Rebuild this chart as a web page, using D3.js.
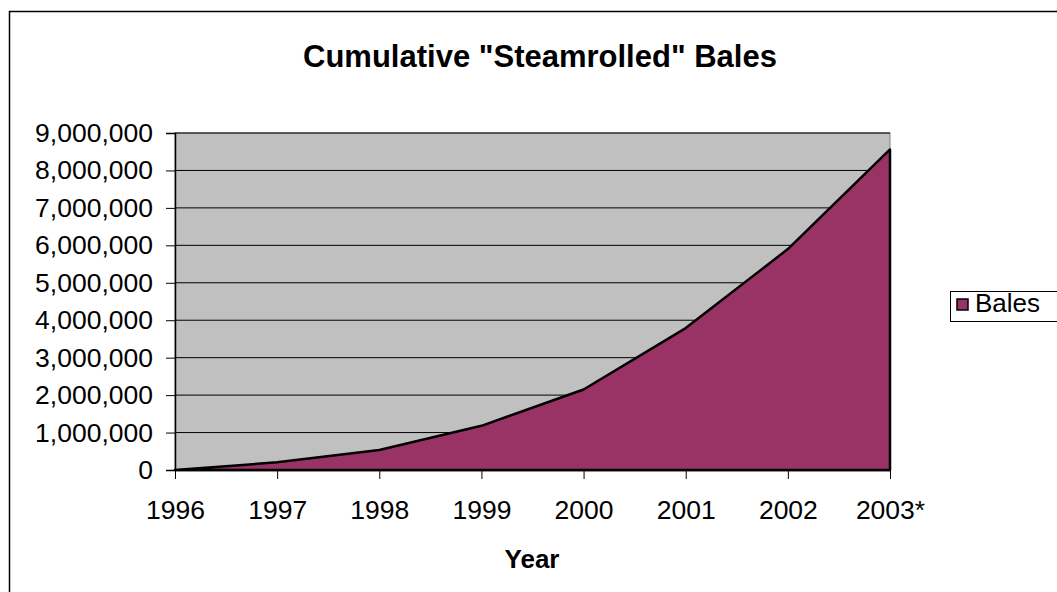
<!DOCTYPE html>
<html lang="en">
<head>
    <meta charset="UTF-8">
    <title>Cumulative Steamrolled Bales</title>
    <script src="https://cdn.jsdelivr.net/npm/d3@7"></script>
    <style>
        html, body {
            margin: 0;
            background: white;
            font-family: "Liberation Sans", Arial, sans-serif;
        }
    </style>
</head>
<body>
    <div id="vis"></div>
    <script>
        // data
        var years = ['1996', '1997', '1998', '1999', '2000', '2001', '2002', '2003*'];
        var bales = [0, 205000, 535000, 1180000, 2150000, 3790000, 5900000, 8560000];
        var yTicks = [0, 1000000, 2000000, 3000000, 4000000, 5000000, 6000000, 7000000, 8000000, 9000000];

        var width = 1057, height = 592;
        var margin = {top: 133, left: 175, right: 167, bottom: 122};
        var font = '"Liberation Sans", Arial, sans-serif';

        var svg = d3.select('#vis').append('svg')
            .attr('width', width)
            .attr('height', height)
            .attr('font-family', font);

        // outer chart border
        svg.append('rect')
            .attr('x', 9.5).attr('y', 11.5)
            .attr('width', 1100).attr('height', 700)
            .attr('fill', 'white')
            .attr('stroke', 'black')
            .attr('stroke-width', 1.5);

        var w = width - margin.left - margin.right;
        var h = height - margin.top - margin.bottom;

        var g = svg.append('g')
            .attr('transform', 'translate(' + margin.left + ',' + margin.top + ')');

        var x = d3.scalePoint().domain(years).range([0, w]);
        var y = d3.scaleLinear().domain([0, 9000000]).range([h, 0]);

        g.append('rect')
            .attr('width', w).attr('height', h)
            .attr('fill', '#c0c0c0')
            .attr('stroke', '#808080')
            .attr('stroke-width', 1);

        // gridlines
        g.selectAll('.grid')
            .data(yTicks.slice(1))
            .enter().append('line')
            .attr('class', 'grid')
            .attr('x1', 0).attr('x2', w)
            .attr('y1', function(d){ return y(d); })
            .attr('y2', function(d){ return y(d); })
            .attr('stroke', 'black')
            .attr('stroke-width', 1);

        var area = d3.area()
            .x(function(d, i){ return x(years[i]); })
            .y0(h)
            .y1(function(d){ return y(d); });

        g.append('path')
            .datum(bales)
            .attr('d', area)
            .attr('fill', '#993366')
            .attr('stroke', 'black')
            .attr('stroke-width', 2.5)
            .attr('stroke-linejoin', 'round');

        var fmt = d3.format(',');

        var yAxis = g.append('g')
            .call(d3.axisLeft(y).tickValues(yTicks).tickFormat(fmt).tickSize(9).tickPadding(13));
        yAxis.attr('font-size', null).attr('font-family', null);
        yAxis.select('.domain').attr('stroke', 'black').attr('stroke-width', 1.5);
        yAxis.selectAll('text')
            .style('font-size', '26.5px')
            .attr('fill', 'black');

        var xAxis = g.append('g')
            .attr('transform', 'translate(0,' + h + ')')
            .call(d3.axisBottom(x).tickSize(9).tickPadding(21).tickSizeOuter(0));
        xAxis.attr('font-size', null).attr('font-family', null);
        xAxis.select('.domain').attr('stroke', 'black').attr('stroke-width', 1.5);
        xAxis.selectAll('text')
            .style('font-size', '26.5px')
            .attr('fill', 'black');

        svg.append('text')
            .attr('x', 540).attr('y', 67)
            .attr('text-anchor', 'middle')
            .style('font-size', '31px')
            .attr('font-weight', 'bold')
            .text('Cumulative "Steamrolled" Bales');

        svg.append('text')
            .attr('x', 532).attr('y', 568)
            .attr('text-anchor', 'middle')
            .style('font-size', '26px')
            .attr('font-weight', 'bold')
            .text('Year');

        // legend
        var leg = svg.append('g').attr('transform', 'translate(950,291)');
        leg.append('rect')
            .attr('x', 0.5).attr('y', 0.5)
            .attr('width', 120).attr('height', 30)
            .attr('fill', 'white')
            .attr('stroke', 'black')
            .attr('stroke-width', 1);
        leg.append('rect')
            .attr('x', 7).attr('y', 8)
            .attr('width', 11).attr('height', 11)
            .attr('fill', '#993366')
            .attr('stroke', 'black')
            .attr('stroke-width', 1.5);
        leg.append('text')
            .attr('x', 25).attr('y', 21)
            .style('font-size', '26px')
            .text('Bales');
    </script>
</body>
</html>
